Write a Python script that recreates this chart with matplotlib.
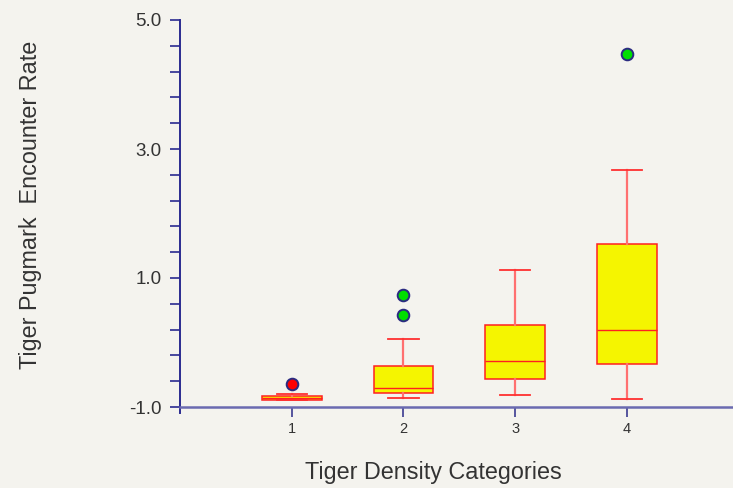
import matplotlib
matplotlib.use("Agg")
import matplotlib.pyplot as plt
import numpy as np

plt.rcParams['font.family'] = ['Liberation Sans', 'DejaVu Sans']

categories = ["1", "2", "3", "4"]
whisker_low = [-0.89, -0.865, -0.82, -0.87]
q1 = [-0.895, -0.79, -0.57, -0.34]
median = [-0.86, -0.71, -0.29, 0.19]
q3 = [-0.825, -0.365, 0.27, 1.52]
whisker_high = [-0.80, 0.06, 1.12, 2.67]
outliers = [[-0.64], [0.73, 0.42], [], [4.48]]
outlier_colors = ["#ff0000", "#00e000", "#00e000", "#00e000"]

bg = "#f4f3ee"
fig = plt.figure(figsize=(7.33, 4.88), dpi=100, facecolor=bg)
ax = fig.add_axes([180/733, 81/488, 553/733, 387/488], facecolor=bg)

positions = np.arange(1, len(categories) + 1)
stats = []
for i, c in enumerate(categories):
    stats.append(dict(label=c, whislo=whisker_low[i], q1=q1[i], med=median[i],
                      q3=q3[i], whishi=whisker_high[i], fliers=[]))

ax.bxp(stats, positions=positions, widths=0.535, patch_artist=True, showfliers=False,
       boxprops=dict(facecolor="#f5f500", edgecolor="#ff2020", linewidth=1.1),
       medianprops=dict(color="#ff2020", linewidth=1.0),
       whiskerprops=dict(color="#ff7070", linewidth=1.6),
       capprops=dict(color="#ff3030", linewidth=1.3),
       capwidths=0.27)

for i, pts in enumerate(outliers):
    if pts:
        ax.scatter([positions[i]] * len(pts), pts, s=70, color=outlier_colors[i],
                   edgecolors="#2a2a80", linewidths=1.4, zorder=5)

ax.set_xlim(0.0, 4.95)
ax.set_ylim(-1.0, 5.0)
ax.set_yticks([-1.0, 1.0, 3.0, 5.0])
ax.set_yticklabels(["-1.0", "1.0", "3.0", "5.0"])
ax.set_yticks(np.arange(-1.0, 5.01, 0.4), minor=True)
ax.set_xticks(positions)
ax.set_xticklabels(categories)

for s in ["top", "right"]:
    ax.spines[s].set_visible(False)
ax.spines["left"].set_color("#2a2a90")
ax.spines["left"].set_linewidth(1.4)
ax.spines["left"].set_bounds(-1.1, 5.0)
ax.spines["bottom"].set_color("#6a6ab0")
ax.spines["bottom"].set_linewidth(1.8)

ax.tick_params(axis="y", which="both", length=7, width=1.2, color="#2a2a90",
               labelsize=13.5, labelcolor="#333333", pad=6)
ax.tick_params(axis="x", which="major", length=7, width=1.2, color="#3a3a90",
               labelsize=10.5, labelcolor="#333333", pad=4)

fig.text(433/733, 1 - 472/488, "Tiger Density Categories", ha="center", va="center",
         fontsize=16.8, color="#333333")
fig.text(31/733, 1 - 205/488, "Tiger Pugmark  Encounter Rate", ha="center", va="center",
         rotation=90, fontsize=16.8, color="#333333")

fig.savefig("out.png", dpi=100, facecolor=bg)
